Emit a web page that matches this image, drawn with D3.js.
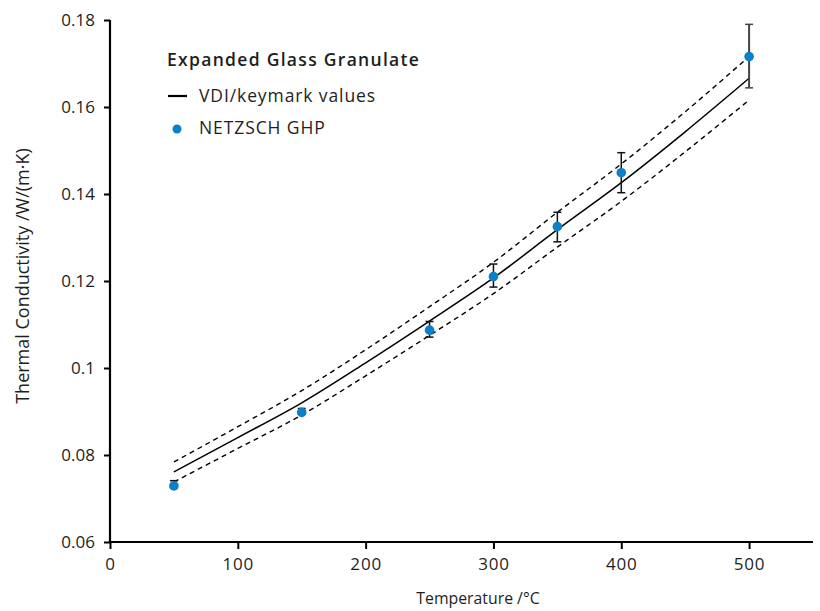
<!DOCTYPE html>
<html><head><meta charset="utf-8">
<script src="https://cdn.jsdelivr.net/npm/d3@7"></script>
<style>
html,body{margin:0;padding:0;background:#fff;}
svg text{font-family:"Open Sans","Noto Sans",sans-serif;fill:#1e1e1e;}
</style></head>
<body><svg id="c" width="820" height="611"></svg>
<script>
// VDI / keymark reference curve
const vdiT = [50,100,150,200,250,300,350,400,450,500];
const vdiK = [0.0761,0.0840,0.0920,0.1012,0.1108,0.1207,0.1318,0.1426,0.1543,0.1666];
const vdiUpper = [0.0784,0.0865,0.0948,0.1042,0.1141,0.1243,0.1358,0.1469,0.1589,0.1716];
const vdiLower = [0.0738,0.0815,0.0892,0.0982,0.1075,0.1171,0.1278,0.1383,0.1497,0.1616];
// NETZSCH GHP measurements
const ghpT = [50,150,250,300,350,400,500];
const ghpK = [0.0729,0.0898,0.1087,0.1210,0.1325,0.1449,0.1716];
const ghpErrUp = [0.0012,0.0009,0.0020,0.0029,0.0033,0.0046,0.0074];
const ghpErrDown = [0.0004,0.0004,0.0016,0.0024,0.0035,0.0046,0.0072];
const xTicks = [0,100,200,300,400,500];
const yTicks = [0.06,0.08,0.1,0.12,0.14,0.16,0.18];
const yTickLabels = ["0.06","0.08","0.1","0.12","0.14","0.16","0.18"];

const svg = d3.select("#c");
const x = d3.scaleLinear().domain([0,550]).range([110,813]);
const y = d3.scaleLinear().domain([0.06,0.18]).range([542,20]);

// axes
const xAxis = d3.axisBottom(x).tickValues(xTicks).tickSize(7).tickPadding(6).tickFormat(d3.format("d"));
const gx = svg.append("g").attr("transform","translate(0,542)").call(xAxis);
const yAxis = d3.axisLeft(y).tickValues(yTicks).tickSize(6).tickPadding(9).tickFormat((d,i)=>yTickLabels[i]);
const gy = svg.append("g").attr("transform","translate(110,0)").call(yAxis);
[gx,gy].forEach(g=>{
  g.select(".domain").attr("stroke","#000").attr("stroke-width",2.2).attr("d", g===gx ? "M110,0H813" : "M0,20V542");
  g.selectAll(".tick line").attr("stroke","#000").attr("stroke-width",2);
  g.selectAll(".tick text").attr("font-size",17).attr("fill","#1e1e1e").attr("font-family","'Open Sans',sans-serif").attr("font-weight",400);
});
gx.selectAll(".tick text").attr("dy","0.9em").attr("letter-spacing",0.8);

// curves
const pts = a => vdiT.map((t,i)=>[t,a[i]]);
const line = d3.line().x(d=>x(d[0])).y(d=>y(d[1])).curve(d3.curveMonotoneX);
svg.append("path").attr("d",line(pts(vdiUpper))).attr("fill","none").attr("stroke","#000").attr("stroke-width",1.4).attr("stroke-dasharray","5,4");
svg.append("path").attr("d",line(pts(vdiLower))).attr("fill","none").attr("stroke","#000").attr("stroke-width",1.4).attr("stroke-dasharray","5,4");
svg.append("path").attr("d",line(pts(vdiK))).attr("fill","none").attr("stroke","#000").attr("stroke-width",1.5);

// error bars
const eb = svg.append("g");
ghpT.forEach((t,i)=>{
  const cx = x(t), top = y(ghpK[i]+ghpErrUp[i]), bot = y(ghpK[i]-ghpErrDown[i]);
  const col = i===ghpT.length-1 ? "#444" : "#111";
  const sw = i===ghpT.length-1 ? 2 : 1.5;
  eb.append("line").attr("x1",cx).attr("x2",cx).attr("y1",top).attr("y2",bot).attr("stroke",col).attr("stroke-width",sw);
  eb.append("line").attr("x1",cx-4).attr("x2",cx+4).attr("y1",top).attr("y2",top).attr("stroke",col).attr("stroke-width",1.5);
  eb.append("line").attr("x1",cx-4).attr("x2",cx+4).attr("y1",bot).attr("y2",bot).attr("stroke",col).attr("stroke-width",1.5);
});
svg.append("g").selectAll("circle").data(ghpT).join("circle")
  .attr("cx",d=>x(d)).attr("cy",(d,i)=>y(ghpK[i])).attr("r",4.8).attr("fill","#0a80c8");

// legend
svg.append("text").attr("x",167).attr("y",66).attr("font-size",17.5).attr("font-weight",600).attr("letter-spacing",1.3).text("Expanded Glass Granulate");
svg.append("line").attr("x1",168).attr("x2",187).attr("y1",96).attr("y2",96).attr("stroke","#000").attr("stroke-width",2.2);
svg.append("text").attr("x",199).attr("y",102).attr("font-size",17.5).attr("font-weight",400).attr("letter-spacing",0.9).text("VDI/keymark values");
svg.append("circle").attr("cx",177).attr("cy",129).attr("r",4.5).attr("fill","#0a80c8");
svg.append("text").attr("x",199).attr("y",134).attr("font-size",17.5).attr("font-weight",400).attr("letter-spacing",0.9).text("NETZSCH GHP");

// axis titles
svg.append("text").attr("x",478).attr("y",604).attr("text-anchor","middle").attr("font-size",17).attr("font-weight",400)
  .attr("transform","translate(478,0) scale(0.93,1) translate(-478,0)").text("Temperature /°C");
svg.append("text").attr("transform","translate(29,276) rotate(-90)").attr("text-anchor","middle").attr("font-size",18).attr("font-weight",400)
  .text("Thermal Conductivity /W/(m·K)");
</script></body></html>
